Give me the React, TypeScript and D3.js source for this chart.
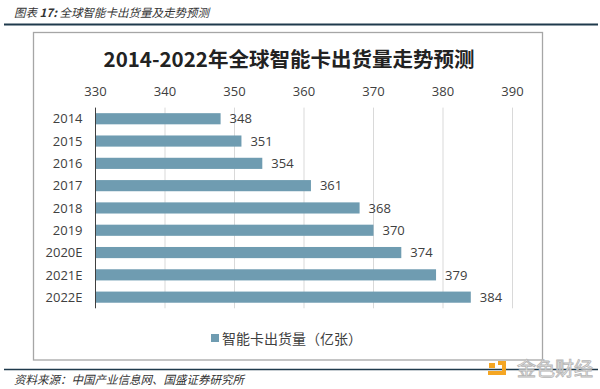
import React from 'react';
import * as d3 from 'd3';

// shipments of smart cards, 100 million units
const years = ['2014', '2015', '2016', '2017', '2018', '2019', '2020E', '2021E', '2022E'];
const shipments = [348, 351, 354, 361, 368, 370, 374, 379, 384];
const xTicks = [330, 340, 350, 360, 370, 380, 390];

const W = 600;
const H = 389;
const FONT = '"Open Sans", "Noto Sans CJK SC", sans-serif';
const CJK = '"Noto Sans CJK SC", sans-serif';
const BAR = '#6f9cb1';
const TXT = '#404040';

const App = () => {
  const x = d3.scaleLinear().domain([330, 390]).range([95.5, 512.5]);
  const y = d3
    .scaleBand()
    .domain(years)
    .range([107.6, 308.3])
    .paddingInner(0.5)
    .paddingOuter(0.25);

  const top = y.range()[0];
  const bottom = y.range()[1];

  return (
    <svg
      width={W}
      height={H}
      viewBox={`0 0 ${W} ${H}`}
      style={{ position: 'absolute', left: 0, top: 0, display: 'block', background: '#fff' }}
    >
      {/* report header */}
      <text x={14} y={16.5} fontFamily={CJK} fontSize={11.5} fontStyle="italic" fill="#333">
        图表 <tspan fontWeight="bold">17:</tspan> 全球智能卡出货量及走势预测
      </text>
      <line x1={4} x2={598} y1={24.5} y2={24.5} stroke="#1f3a4c" strokeWidth={2} />

      {/* chart frame */}
      <rect x={33.5} y={32.5} width={509} height={327.5} fill="#fff" stroke="#a6a6a6" strokeWidth={1.3} />

      <text
        x={289}
        y={67}
        textAnchor="middle"
        fontFamily={CJK}
        fontSize={20.5}
        fontWeight="bold"
        fill="#222"
      >
        2014-2022年全球智能卡出货量走势预测
      </text>

      {/* grid + top axis labels */}
      {xTicks.map((t) => (
        <g key={t}>
          {t !== 330 && (
            <line x1={x(t)} x2={x(t)} y1={top} y2={bottom} stroke="#d9d9d9" strokeWidth={1} />
          )}
          <text
            x={x(t)}
            y={95.5}
            textAnchor="middle"
            fontFamily={FONT}
            fontSize={13}
            fill={TXT}
          >
            {t}
          </text>
        </g>
      ))}

      {/* bars */}
      {years.map((yr, i) => {
        const v = shipments[i];
        const cy = y(yr) + y.bandwidth() / 2;
        return (
          <g key={yr}>
            <rect x={x(330)} y={y(yr)} width={x(v) - x(330)} height={y.bandwidth()} fill={BAR} />
            <text
              x={x(330) - 13}
              y={cy + 4.7}
              textAnchor="end"
              fontFamily={FONT}
              fontSize={13}
              fill={TXT}
            >
              {yr}
            </text>
            <text x={x(v) + 9} y={cy + 4.7} fontFamily={FONT} fontSize={13} fill={TXT}>
              {v}
            </text>
          </g>
        );
      })}

      {/* category axis */}
      <line x1={x(330)} x2={x(330)} y1={top} y2={bottom} stroke="#404040" strokeWidth={1} />

      {/* legend */}
      <rect x={211} y={334} width={8} height={8} fill={BAR} />
      <text x={222} y={343.5} fontFamily={CJK} fontSize={14} fill={TXT}>
        智能卡出货量（亿张）
      </text>

      {/* footer */}
      <line x1={4} x2={598} y1={369.5} y2={369.5} stroke="#1f3a4c" strokeWidth={1.5} />
      <text x={14} y={383.5} fontFamily={CJK} fontSize={11.5} fontStyle="italic" fill="#333">
        资料来源：中国产业信息网、国盛证券研究所
      </text>

      {/* watermark */}
      <g>
        <rect x={489} y={363} width={6} height={5} fill="#f5a623" />
        <path d="M498 361 h8 v14 h-18 v-4 h14 v-6 h-4 z" fill="#f5a623" />
        <text
          x={517}
          y={375.5}
          fontFamily={CJK}
          fontSize={19}
          fill="#ececec"
          stroke="#b5b5b5"
          strokeWidth={0.8}
        >
          金色财经
        </text>
      </g>
    </svg>
  );
};

export default App;
